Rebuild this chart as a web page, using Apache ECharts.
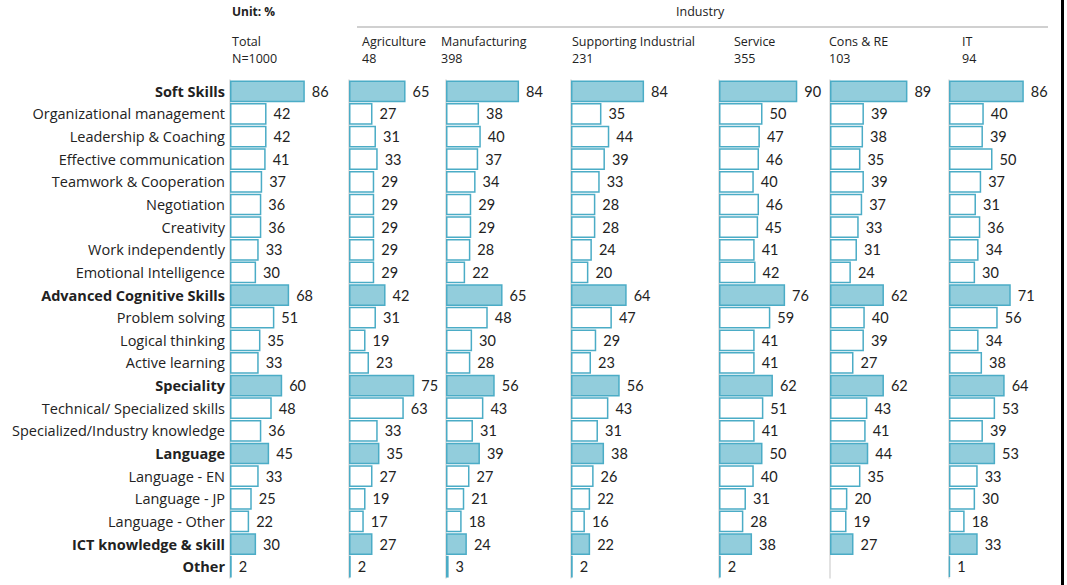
<!DOCTYPE html>
<html><head><meta charset="utf-8">
<script src="https://cdn.jsdelivr.net/npm/echarts@6/dist/echarts.min.js"></script>
<style>html,body{margin:0;padding:0;background:#fff}#c{width:1067px;height:585px}</style>
</head><body><div id="c"></div>
<script>
const categories = ["Soft Skills","Organizational management","Leadership & Coaching","Effective communication","Teamwork & Cooperation","Negotiation","Creativity","Work independently","Emotional Intelligence","Advanced Cognitive Skills","Problem solving","Logical thinking","Active learning","Speciality","Technical/ Specialized skills","Specialized/Industry knowledge","Language","Language - EN","Language - JP","Language - Other","ICT knowledge & skill","Other"];
const boldRows = ["Soft Skills","Advanced Cognitive Skills","Speciality","Language","ICT knowledge & skill","Other"];
const groupNames = ["Total","Agriculture","Manufacturing","Supporting Industrial","Service","Cons & RE","IT"];
const groupN = ["N=1000","48","398","231","355","103","94"];
const total = [86,42,42,41,37,36,36,33,30,68,51,35,33,60,48,36,45,33,25,22,30,2];
const agriculture = [65,27,31,33,29,29,29,29,29,42,31,19,23,75,63,33,35,27,19,17,27,2];
const manufacturing = [84,38,40,37,34,29,29,28,22,65,48,30,28,56,43,31,39,27,21,18,24,3];
const supporting = [84,35,44,39,33,28,28,24,20,64,47,29,23,56,43,31,38,26,22,16,22,2];
const service = [90,50,47,46,40,46,45,41,42,76,59,41,41,62,51,41,50,40,31,28,38,2];
const consRE = [89,39,38,35,39,37,33,31,24,62,40,39,27,62,43,41,44,35,20,19,27,null];
const it = [86,40,39,50,37,31,36,34,30,71,56,34,38,64,53,39,53,33,30,18,33,1];
const seriesValues = [total, agriculture, manufacturing, supporting, service, consRE, it];

const lefts = [230,349,446,571,719,830,949];
const headerX = [232,362,441,572,734,829,962];
const FONT = 'Lato';
const CATFONT = 'Open Sans';
const grids = [], xAxes = [], yAxes = [], series = [];
lefts.forEach((l, i) => {
  grids.push({left: l, top: 80, width: 87, height: 498, containLabel: false});
  xAxes.push({type: 'value', gridIndex: i, min: 0, max: 100, show: false});
  yAxes.push({
    type: 'category', gridIndex: i, data: categories, inverse: true,
    axisLine: {show: true, lineStyle: {color: '#d9d9d9', width: 1.5}},
    axisTick: {show: false},
    axisLabel: {
      show: i === 0, margin: 5, fontFamily: CATFONT, fontSize: 14.5, color: '#222',
      formatter: v => boldRows.includes(v) ? '{b|' + v + '}' : v,
      rich: {b: {fontWeight: 'bold', fontFamily: CATFONT, fontSize: 14.5, color: '#222'}}
    }
  });
  series.push({
    type: 'bar', xAxisIndex: i, yAxisIndex: i, barCategoryGap: '4%',
    data: seriesValues[i].map((v, k) => ({
      value: v == null ? '-' : v,
      itemStyle: boldRows.includes(categories[k])
        ? {color: '#92cddc', borderColor: '#4bacc6', borderWidth: 1.5}
        : {color: '#ffffff', borderColor: '#4bacc6', borderWidth: 1.5}
    })),
    label: {show: true, position: 'right', distance: 7, fontFamily: FONT, fontSize: 14.5, color: '#222'},
    silent: true, animation: false
  });
});

const graphic = [
  {type: 'text', left: 232, top: 5, style: {text: 'Unit: %', font: 'bold 12px ' + CATFONT, fill: '#222'}},
  {type: 'text', left: 676, top: 5, style: {text: 'Industry', font: '12.5px ' + CATFONT, fill: '#222'}},
  {type: 'line', shape: {x1: 357, y1: 27, x2: 1048, y2: 27}, style: {stroke: '#d0d0d0', lineWidth: 2}},
  {type: 'line', shape: {x1: 1062.5, y1: 0, x2: 1062.5, y2: 585}, style: {stroke: '#000', lineWidth: 3}}
];
groupNames.forEach((g, i) => {
  graphic.push({type: 'text', left: headerX[i], top: 33, style: {text: g + '\n' + groupN[i], font: '12.5px ' + CATFONT, fill: '#222', lineHeight: 17}});
});

const chart = echarts.init(document.getElementById('c'), null, {renderer: 'svg'});
chart.setOption({animation: false, grid: grids, xAxis: xAxes, yAxis: yAxes, series: series, graphic: graphic});
</script></body></html>
